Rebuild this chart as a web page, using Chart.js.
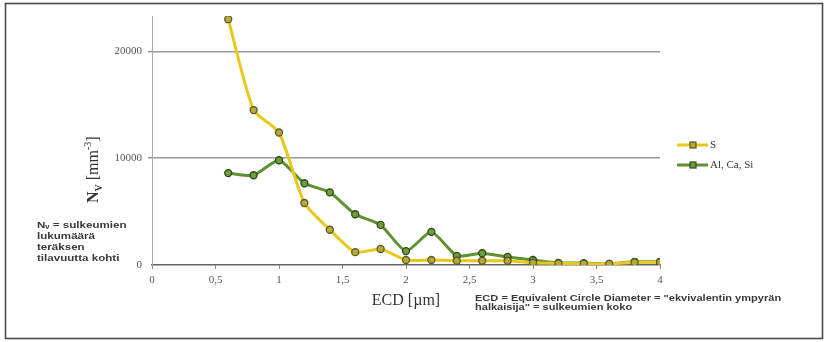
<!DOCTYPE html>
<html>
<head>
<meta charset="utf-8">
<script src="https://cdn.jsdelivr.net/npm/chart.js@4.4.1/dist/chart.umd.min.js"></script>
<style>
html, body { margin: 0; padding: 0; background: #fff; }
#wrap { width: 829px; height: 342px; }
</style>
</head>
<body>
<div id="wrap"><canvas id="nvChart" width="829" height="342"></canvas></div>
<script>
// ECD classes (um)
var ecd = [0.6, 0.8, 1.0, 1.2, 1.4, 1.6, 1.8, 2.0, 2.2, 2.4, 2.6, 2.8, 3.0, 3.2, 3.4, 3.6, 3.8, 4.0];
// N_V values (mm^-3)
var sValues = [23000, 14500, 12400, 5800, 3300, 1200, 1500, 470, 470, 400, 400, 400, 200, 150, 120, 100, 250, 250];
var alCaSiValues = [8600, 8400, 9800, 7650, 6800, 4750, 3750, 1300, 3100, 850, 1100, 750, 470, 200, 180, 100, 300, 300];
var seriesNames = ['S', 'Al, Ca, Si'];
var yTicks = [0, 10000, 20000];

var noteLines = ['N\u1D65 = sulkeumien', 'lukum\u00e4\u00e4r\u00e4', 'ter\u00e4ksen', 'tilavuutta kohti'];
var ecdNote = ['ECD = Equivalent Circle Diameter = "ekvivalentin ympyr\u00e4n', 'halkaisija" = sulkeumien koko'];

function points(vals) {
	var out = [];
	for (var i = 0; i < ecd.length; i++) {
		out.push({x: ecd[i], y: vals[i]});
	}
	return out;
}

// text squeezed wide like in the scanned picture
function wideText(ctx, txt, x, y, sx) {
	ctx.save();
	ctx.translate(x, y);
	ctx.scale(sx, 1);
	ctx.fillText(txt, 0, 0);
	ctx.restore();
}

// frame, y title, notes and legend
var extras = {
	id: 'extras',
	afterDraw: function(chart) {
		var ctx = chart.ctx;
		ctx.save();
		ctx.strokeStyle = '#4a4a4a';
		ctx.lineWidth = 1.6;
		ctx.strokeRect(5.5, 3.5, 817, 335);

		// y axis title N_V [mm^-3]
		ctx.save();
		ctx.translate(94, 169);
		ctx.rotate(-Math.PI / 2);
		ctx.fillStyle = '#333';
		ctx.textBaseline = 'middle';
		var x = -34;
		ctx.font = 'bold 16px "Liberation Serif", serif';
		ctx.fillText('N', x, 0); x += ctx.measureText('N').width;
		ctx.font = 'bold 10px "Liberation Serif", serif';
		ctx.fillText('V', x, 5); x += ctx.measureText('V').width;
		ctx.font = '16px "Liberation Serif", serif';
		ctx.fillText(' [mm', x, 0); x += ctx.measureText(' [mm').width;
		ctx.font = '10px "Liberation Serif", serif';
		ctx.fillText('-3', x, -6); x += ctx.measureText('-3').width;
		ctx.font = '16px "Liberation Serif", serif';
		ctx.fillText(']', x, 0);
		ctx.restore();

		// left note
		ctx.fillStyle = '#3a3a3a';
		ctx.textBaseline = 'middle';
		ctx.font = 'bold 9.5px "Liberation Sans", Arial, sans-serif';
		var noteY = [225, 236, 247, 258];
		for (var i = 0; i < noteLines.length; i++) {
			wideText(ctx, noteLines[i], 37, noteY[i], 1.22);
		}
		// ECD note
		ctx.font = 'bold 8.5px "Liberation Sans", Arial, sans-serif';
		for (var j = 0; j < ecdNote.length; j++) {
			wideText(ctx, ecdNote[j], 475, 299 + j * 9, 1.3);
		}

		// legend
		var ds = chart.data.datasets;
		for (var k = 0; k < ds.length; k++) {
			var ly = 145 + k * 20;
			ctx.strokeStyle = ds[k].borderColor;
			ctx.lineWidth = 3;
			ctx.beginPath();
			ctx.moveTo(677, ly);
			ctx.lineTo(708, ly);
			ctx.stroke();
			ctx.fillStyle = ds[k].pointBackgroundColor;
			ctx.strokeStyle = ds[k].pointBorderColor;
			ctx.lineWidth = 1.2;
			ctx.fillRect(690, ly - 3, 6, 6);
			ctx.strokeRect(690, ly - 3, 6, 6);
			ctx.fillStyle = '#333';
			ctx.font = '11px "Liberation Serif", serif';
			ctx.fillText(ds[k].label, 710, ly);
		}
		ctx.restore();
	}
};

var ctx = document.getElementById('nvChart').getContext('2d');
var nvChart = new Chart(ctx, {
	type: 'line',
	data: {
		datasets: [{
			label: seriesNames[0],
			data: points(sValues),
			borderColor: '#e8c81a',
			borderWidth: 3,
			pointBackgroundColor: '#b5a93a',
			pointBorderColor: '#5e5a1e',
			pointBorderWidth: 1.3,
			pointRadius: 3.5,
			tension: 0.2
		}, {
			label: seriesNames[1],
			data: points(alCaSiValues),
			borderColor: '#5f9130',
			borderWidth: 3,
			pointBackgroundColor: '#6f9c3c',
			pointBorderColor: '#2e4a1a',
			pointBorderWidth: 1.3,
			pointRadius: 3.5,
			tension: 0.2
		}]
	},
	options: {
		responsive: false,
		animation: false,
		devicePixelRatio: 1,
		layout: { padding: { top: 16, right: 169, left: 0, bottom: 0 } },
		plugins: { legend: { display: false }, tooltip: { enabled: false } },
		scales: {
			x: {
				type: 'linear',
				min: 0,
				max: 4,
				afterFit: function(scale) { scale.height = 77; },
				border: { color: '#666', width: 1.5 },
				grid: { drawOnChartArea: false, tickLength: 4, color: '#888' },
				ticks: {
					stepSize: 0.5,
					padding: 5,
					color: '#555',
					font: { family: '"Liberation Serif", serif', size: 11 },
					callback: function(v) { return String(v).replace('.', ','); }
				},
				title: {
					display: true,
					text: 'ECD [\u00b5m]',
					color: '#333',
					font: { family: '"Liberation Serif", serif', size: 16 },
					padding: { top: 0, bottom: 32 }
				}
			},
			y: {
				min: 0,
				max: 23300,
				afterFit: function(scale) { scale.width = 152; },
				afterBuildTicks: function(scale) {
					scale.ticks = yTicks.map(function(v) { return {value: v}; });
				},
				border: { color: '#aaa', width: 1 },
				grid: {
					tickLength: 4,
					lineWidth: 1.5,
					color: function(c) { return c.tick && c.tick.value === 0 ? 'rgba(0,0,0,0)' : '#9a9a9a'; }
				},
				ticks: {
					padding: 6,
					color: '#555',
					font: { family: '"Liberation Serif", serif', size: 11 },
					callback: function(v) { return String(v); }
				}
			}
		}
	},
	plugins: [extras]
});
</script>
</body>
</html>
